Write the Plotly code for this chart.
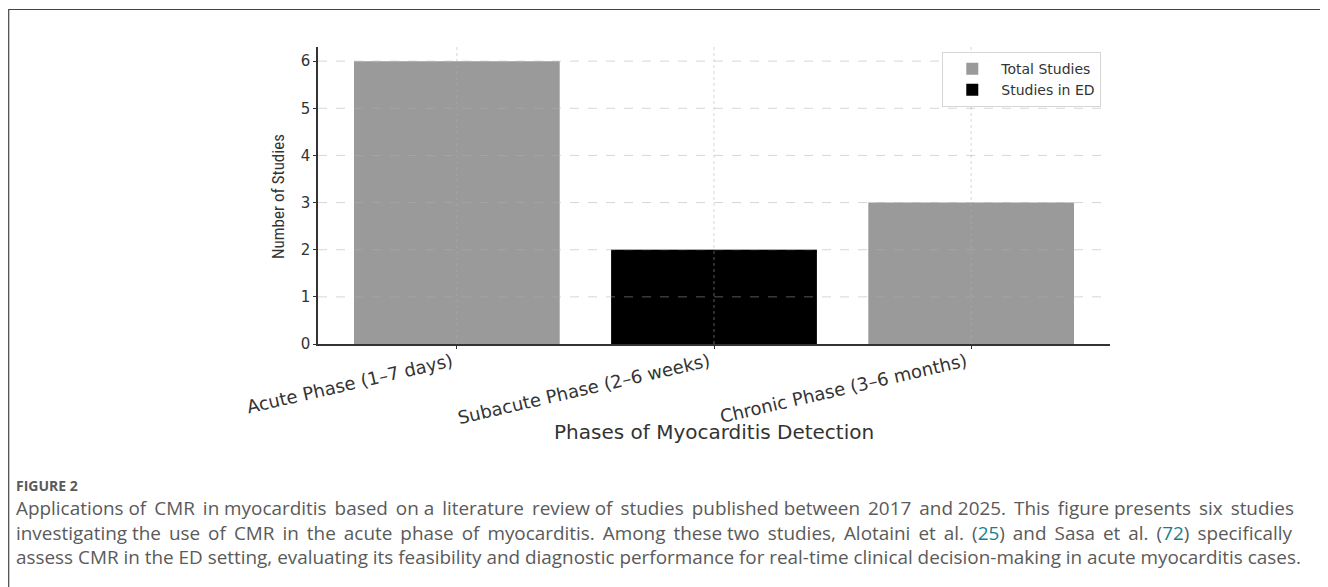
import plotly.graph_objects as go

phases = ["Acute Phase (1–7 days)", "Subacute Phase (2–6 weeks)", "Chronic Phase (3–6 months)"]
total_studies = [6, 2, 3]
ed_studies = [0, 2, 0]
y_ticks = [0, 1, 2, 3, 4, 5, 6]

caption_label = "FIGURE 2"
caption_lines = [
    "Applications of CMR in myocarditis based on a literature review of studies published between 2017 and 2025. This figure presents six studies",
    "investigating the use of CMR in the acute phase of myocarditis. Among these two studies, Alotaini et al. (25) and Sasa et al. (72) specifically",
    "assess CMR in the ED setting, evaluating its feasibility and diagnostic performance for real-time clinical decision-making in acute myocarditis cases.",
]
caption_links = ["25", "72"]
LINK = "#167f8f"

OFF = 8  # page body margin
W, H = 1328 - OFF, 587 - OFF
L, R, T, B = 318 - OFF, 1110 - OFF, 47 - OFF, 344 - OFF  # plot area in figure pixels


def px(x):
    return (x - OFF - L) / (R - L)


def py(y):
    return (B - (y - OFF)) / (B - T)


def justify(line, n_extra):
    """widen a line by inserting thin spaces into n_extra of its gaps"""
    words = line.split(" ")
    gaps = len(words) - 1
    out = words[0]
    for i in range(1, len(words)):
        extra = "\u2009" if (i * n_extra) // gaps != ((i - 1) * n_extra) // gaps else ""
        out += " " + extra + words[i]
    return out


def colour_links(line):
    for c in caption_links:
        line = line.replace("(" + c + ")", "(<span style='color:" + LINK + "'>" + c + "</span>)")
    return line


fig = go.Figure()
fig.add_trace(go.Bar(x=phases, y=total_studies, name="Total Studies",
                     marker=dict(color="#9a9a9a", line=dict(width=0)), width=0.8, opacity=1))
fig.add_trace(go.Bar(x=phases, y=ed_studies, name="Studies in ED",
                     marker=dict(color="#000000", line=dict(width=0)), width=0.8, opacity=1))

grid_col = "rgba(175,175,175,0.5)"

fig.update_layout(
    width=W, height=H,
    margin=dict(l=L, r=W - R, t=T, b=H - B),
    paper_bgcolor="white", plot_bgcolor="white",
    barmode="overlay",
    showlegend=True,
    legend=dict(x=0.989, y=0.983, xanchor="right", yanchor="top",
                bgcolor="rgba(255,255,255,0.92)", bordercolor="#d6d6d6", borderwidth=1,
                font=dict(family="DejaVu Sans", size=14, color="#333333"),
                itemwidth=48, tracegroupgap=0),
    xaxis=dict(range=[-0.54, 2.54], showline=True, linecolor="#333333", linewidth=1.5,
               ticks="outside", ticklen=3, tickcolor="#333333",
               tickangle=-13, tickfont=dict(family="DejaVu Sans", size=18, color="#333333"),
               ticklabelstandoff=-4, ticklabelshift=-5,
               showgrid=False, layer="above traces", zeroline=False),
    yaxis=dict(range=[0, 6.3], showline=True, linecolor="#333333", linewidth=1.5,
               tickvals=y_ticks, ticks="outside", ticklen=3, tickcolor="#333333",
               tickfont=dict(family="DejaVu Sans", size=15, color="#333333"),
               showgrid=False, layer="above traces", zeroline=False),
)

# grid lines drawn above the bars (as in the reference)
for t in y_ticks[1:]:
    fig.add_shape(type="line", xref="paper", yref="y", x0=0, x1=1, y0=t, y1=t,
                  line=dict(color=grid_col, width=1, dash="dash"), layer="above")
for p in phases:
    fig.add_shape(type="line", xref="x", yref="paper", x0=p, x1=p, y0=0, y1=1,
                  line=dict(color=grid_col, width=1, dash="dot"), layer="above")

extras = [14, 22, 0]
caption_text = "<br>".join(colour_links(justify(t, n) if n else t) for t, n in zip(caption_lines, extras))

annotations = [
    dict(text="Number of Studies", x=px(278), y=py(197), xref="paper", yref="paper",
         textangle=-90, showarrow=False, xanchor="center", yanchor="middle",
         font=dict(family="Roboto Condensed, DejaVu Sans Condensed, Liberation Sans Narrow, Roboto, sans-serif",
                   size=17, color="#333333")),
    dict(text="Phases of Myocarditis Detection", x=px(714), y=py(432), xref="paper", yref="paper",
         showarrow=False, xanchor="center", yanchor="middle",
         font=dict(family="DejaVu Sans", size=20, color="#333333")),
    dict(text="<b>" + caption_label + "</b>", x=px(14), y=py(485), xref="paper", yref="paper",
         showarrow=False, xanchor="left", yanchor="middle",
         font=dict(family="Open Sans", size=14, color="#5a5a5a")),
    dict(text=caption_text, x=px(14), y=py(532), xref="paper", yref="paper",
         showarrow=False, xanchor="left", yanchor="middle", align="left",
         font=dict(family="Open Sans", size=18.9, color="#5a5a5a")),
]
fig.update_layout(annotations=annotations)

fig.add_shape(type="rect", xref="paper", yref="paper",
              x0=px(8.7), x1=px(1326), y0=py(9.5), y1=py(600),
              line=dict(color="#444444", width=1.2), fillcolor="rgba(0,0,0,0)", layer="below")

fig.write_html("out.html")
